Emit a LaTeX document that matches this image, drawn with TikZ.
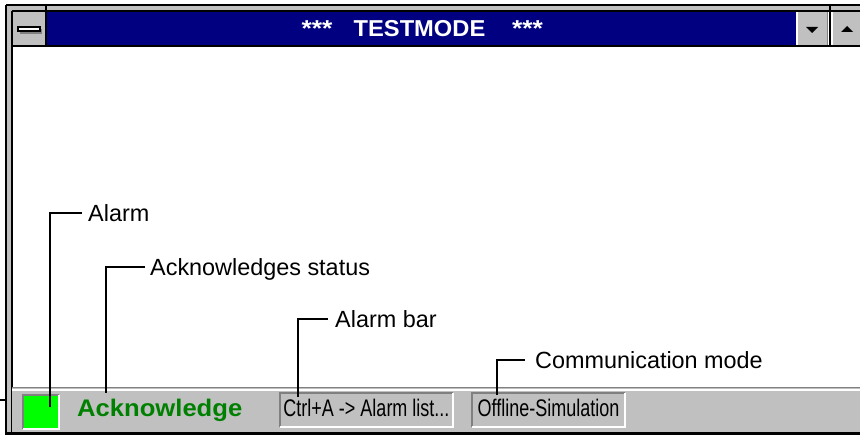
\documentclass[tikz,border=0pt]{standalone}
\usepackage{fontspec}
\setmainfont{Liberation Sans}
\definecolor{navy}{RGB}{0,0,128}
\definecolor{wgray}{RGB}{192,192,192}
\definecolor{dgray}{RGB}{128,128,128}
\definecolor{ackgreen}{RGB}{0,128,0}
\definecolor{alarmgreen}{RGB}{0,255,0}
\begin{document}
\begin{tikzpicture}[x=1pt,y=-1pt,
  lbl/.style={inner sep=0pt, anchor=west, text height=17pt, text depth=0pt,
              font=\fontsize{23.4}{23.4}\selectfont},
  leader/.style={draw=black, line width=1.6pt, line join=miter},
  frameline/.style={draw=black, line width=1.4pt},
  statbox/.style={fill=wgray, inner sep=0pt, minimum height=34pt},
  stext/.style={inner sep=0pt, anchor=base, font=\fontsize{24}{24}\selectfont},
  ttl/.style={text=white, inner sep=0pt, anchor=base, font=\bfseries\fontsize{23}{23}\selectfont},
  hi/.style={draw=white, line width=1.6pt},
  lo/.style={draw=dgray, line width=1.6pt},
  btn/.style={fill=wgray, inner sep=0pt, minimum height=34pt, anchor=north west}]
\useasboundingbox (0,0) rectangle (860,435);
\fill[white] (0,0) rectangle (860,435);
% window frame
\fill[wgray] (6,5) rectangle (860,11);
\fill[wgray] (6,5) rectangle (12,432);
\node[btn, minimum width=34pt] (menu) at (12,11) {};
\node[fill=navy, inner sep=0pt, minimum width=751pt, minimum height=34pt, anchor=north west] (title) at (46,11) {};
\node[btn, minimum width=30pt] (down) at (797,11) {};
\node[btn, minimum width=28pt] (up) at (832,11) {};
\draw[hi] (down.south west) |- (down.north east);
\draw[lo] (down.south west) -| (down.north east);
\draw[hi] (up.south west) |- (up.north east);
\draw[lo] (up.south west) -- (up.south east);
\fill[black] (806,27) -- (818,27) -- (812,33) -- cycle;
\fill[black] (841,32) -- (853,32) -- (847,26) -- cycle;
% menu minus bar
\fill[dgray] (20,29) rectangle (42,34);
\draw[black, fill=white, line width=1.2pt] (18,27) rectangle (40,31);
% title text
\node[ttl] (tstar1) at (317,37) {\scalebox{1.15}[1]{***}};
\node[ttl] (ttext) at (419.5,37) {\scalebox{1.03}[1]{TESTMODE}};
\node[ttl] (tstar2) at (527.5,37) {\scalebox{1.15}[1]{***}};
\draw[frameline] (6,5) -- (860,5);
\draw[frameline] (12,11) -- (860,11);
\draw[frameline] (12,46) -- (860,46);
\draw[frameline] (46,5) -- (46,46);
\draw[frameline] (830,5) -- (830,46);
\draw[frameline] (6,5) -- (6,435);
\draw[frameline] (12,11) -- (12,432);
\draw[frameline] (0,400) -- (6,400);
% status bar
\fill[wgray] (12,387) rectangle (860,432);
\draw[dgray, line width=1.5pt] (12,387.5) -- (860,387.5);
\draw[white, line width=1.5pt] (12,390) -- (860,390);
\draw[black, line width=2.4pt] (6,433.5) -- (860,433.5);
\draw[black, line width=1.4pt] (45,432) -- (45,435);
\draw[black, line width=1.4pt] (829,432) -- (829,435);
% alarm square
\node[fill=alarmgreen, inner sep=0pt, minimum width=36pt, minimum height=34pt] (alarmsq) at (41,412) {};
\draw[lo] (alarmsq.south west) |- (alarmsq.north east);
\draw[hi] (alarmsq.south west) -| (alarmsq.north east);
% acknowledge text
\node[inner sep=0pt, anchor=base west, text=ackgreen, font=\bfseries\fontsize{24}{24}\selectfont] (ack) at (77,417) {\scalebox{1.067}[1]{Acknowledge}};
% status boxes
\node[statbox, minimum width=173pt] (ctrl) at (366.5,410) {};
\draw[lo] (ctrl.south west) |- (ctrl.north east);
\draw[hi] (ctrl.south west) -| (ctrl.north east);
\node[stext] (ctrltext) at ([yshift=-7pt]ctrl.center) {\scalebox{0.75}[1]{Ctrl+A -> Alarm list...}};
\node[statbox, minimum width=153pt] (offl) at (548.5,410) {};
\draw[lo] (offl.south west) |- (offl.north east);
\draw[hi] (offl.south west) -| (offl.north east);
\node[stext] (offltext) at ([yshift=-7pt]offl.center) {\scalebox{0.75}[1]{Offline-Simulation}};
% labels and leaders
\coordinate (ealarm) at (50,407);
\node[lbl] (talarm) at (88,213) {Alarm};
\draw[leader] (ealarm) |- ([xshift=-6pt]talarm.west);
\coordinate (eack) at (106,393);
\node[lbl] (tack) at (150,267) {Acknowledges status};
\draw[leader] (eack) |- ([xshift=-5pt]tack.west);
\coordinate (ebar) at (298,397);
\node[lbl] (tbar) at (335,319) {Alarm bar};
\draw[leader] (ebar) |- ([xshift=-7pt]tbar.west);
\coordinate (ecomm) at (497,395);
\node[lbl] (tcomm) at (535,360) {Communication mode};
\draw[leader] (ecomm) |- ([xshift=-10pt]tcomm.west);
\end{tikzpicture}
\end{document}
